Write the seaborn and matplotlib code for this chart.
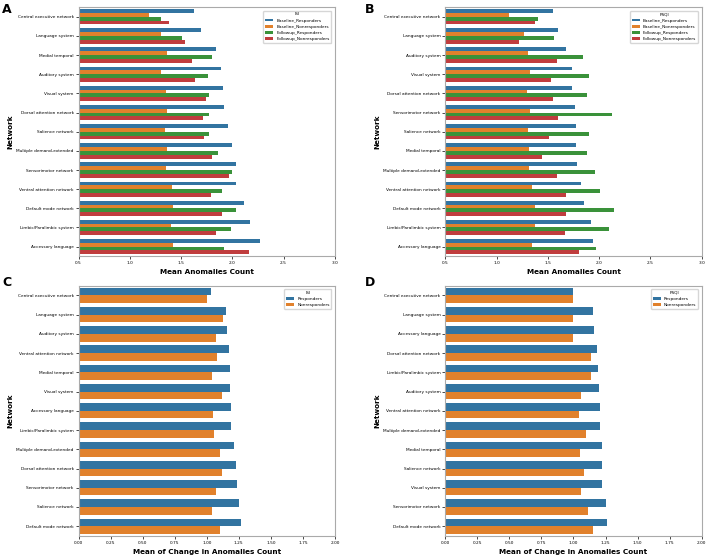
import pandas as pd
import seaborn as sns
import matplotlib.pyplot as plt

# A: ISI, mean anomalies count per network
isi_networks = ['Central executive network', 'Language system', 'Medial temporal', 'Auditory system',
                'Visual system', 'Dorsal attention network', 'Salience network', 'Multiple demand-extended',
                'Sensorimotor network', 'Ventral attention network', 'Default mode network',
                'Limbic/Paralimbic system', 'Accessory language']
isi_baseline_resp = [1.63, 1.69, 1.84, 1.89, 1.91, 1.92, 1.96, 2.00, 2.04, 2.04, 2.11, 2.17, 2.27]
isi_baseline_nonresp = [1.19, 1.30, 1.36, 1.30, 1.35, 1.36, 1.34, 1.36, 1.35, 1.41, 1.42, 1.40, 1.42]
isi_followup_resp = [1.30, 1.51, 1.80, 1.76, 1.77, 1.77, 1.77, 1.86, 2.00, 1.90, 2.04, 1.99, 1.92]
isi_followup_nonresp = [1.38, 1.54, 1.61, 1.64, 1.74, 1.71, 1.72, 1.80, 1.97, 1.79, 1.90, 1.84, 2.16]

# B: PSQI, mean anomalies count per network
psqi_networks = ['Central executive network', 'Language system', 'Auditory system', 'Visual system',
                 'Dorsal attention network', 'Sensorimotor network', 'Salience network', 'Medial temporal',
                 'Multiple demand-extended', 'Ventral attention network', 'Default mode network',
                 'Limbic/Paralimbic system', 'Accessory language']
psqi_baseline_resp = [1.55, 1.60, 1.68, 1.74, 1.74, 1.76, 1.77, 1.77, 1.78, 1.82, 1.85, 1.92, 1.94]
psqi_baseline_nonresp = [1.12, 1.27, 1.31, 1.33, 1.30, 1.33, 1.31, 1.32, 1.32, 1.35, 1.37, 1.37, 1.35]
psqi_followup_resp = [1.40, 1.56, 1.84, 1.90, 1.88, 2.13, 1.90, 1.88, 1.96, 2.01, 2.15, 2.10, 1.97]
psqi_followup_nonresp = [1.37, 1.22, 1.59, 1.53, 1.55, 1.60, 1.51, 1.44, 1.59, 1.68, 1.68, 1.67, 1.80]

# C: ISI, mean of change
isi_change_networks = ['Central executive network', 'Language system', 'Auditory system',
                       'Ventral attention network', 'Medial temporal', 'Visual system', 'Accessory language',
                       'Limbic/Paralimbic system', 'Multiple demand-extended', 'Dorsal attention network',
                       'Sensorimotor network', 'Salience network', 'Default mode network']
isi_change_resp = [1.03, 1.15, 1.16, 1.17, 1.18, 1.18, 1.19, 1.19, 1.21, 1.23, 1.24, 1.25, 1.27]
isi_change_nonresp = [1.00, 1.13, 1.07, 1.08, 1.04, 1.12, 1.05, 1.06, 1.10, 1.12, 1.07, 1.04, 1.10]

# D: PSQI, mean of change
psqi_change_networks = ['Central executive network', 'Language system', 'Accessory language',
                        'Dorsal attention network', 'Limbic/Paralimbic system', 'Auditory system',
                        'Ventral attention network', 'Multiple demand-extended', 'Medial temporal',
                        'Salience network', 'Visual system', 'Sensorimotor network', 'Default mode network']
psqi_change_resp = [1.00, 1.15, 1.16, 1.18, 1.19, 1.20, 1.21, 1.21, 1.22, 1.22, 1.22, 1.25, 1.26]
psqi_change_nonresp = [1.00, 1.00, 1.00, 1.14, 1.14, 1.06, 1.04, 1.10, 1.05, 1.08, 1.06, 1.11, 1.15]

four_groups = ['Baseline_Responders', 'Baseline_Nonresponders', 'Followup_Responders', 'Followup_Nonresponders']
two_groups = ['Responders', 'Nonresponders']


def to_long(networks, groups, series):
    rows = []
    for g, vals in zip(groups, series):
        for n, v in zip(networks, vals):
            rows.append({'Network': n, 'Group': g, 'Value': v})
    return pd.DataFrame(rows)


def draw(ax, df, order, groups, title, xlabel, xlim, xticks):
    sns.barplot(data=df, x='Value', y='Network', hue='Group', order=order, hue_order=groups,
                orient='h', errorbar=None, ax=ax)
    ax.set_xlim(xlim)
    ax.set_xticks(xticks)
    ax.set_xlabel(xlabel, fontsize=5.2, fontweight='bold', labelpad=3)
    ax.set_ylabel('Network', fontsize=5.2, fontweight='bold', labelpad=2)
    ax.tick_params(labelsize=3.1, length=2, width=0.5, pad=1.5)
    for s in ax.spines.values():
        s.set_color('#aaaaaa')
        s.set_linewidth(0.8)
    h, l = ax.get_legend_handles_labels()
    ax.legend(h, l, title=title, loc='upper right', fontsize=3.1, title_fontsize=3.1,
              handlelength=1.8, handleheight=0.6, borderaxespad=0.8, frameon=True)


fig = plt.figure(figsize=(7.08, 5.57), dpi=100)
axA = fig.add_axes([0.111, 0.540, 0.362, 0.447])
axB = fig.add_axes([0.629, 0.540, 0.362, 0.447])
axC = fig.add_axes([0.111, 0.038, 0.362, 0.449])
axD = fig.add_axes([0.629, 0.038, 0.362, 0.449])

ticks_a = [0.5, 1.0, 1.5, 2.0, 2.5, 3.0]
ticks_c = [0, 0.25, 0.5, 0.75, 1.0, 1.25, 1.5, 1.75, 2.0]

draw(axA, to_long(isi_networks, four_groups,
                  [isi_baseline_resp, isi_baseline_nonresp, isi_followup_resp, isi_followup_nonresp]),
     isi_networks, four_groups, 'ISI', 'Mean Anomalies Count', (0.5, 3.0), ticks_a)
draw(axB, to_long(psqi_networks, four_groups,
                  [psqi_baseline_resp, psqi_baseline_nonresp, psqi_followup_resp, psqi_followup_nonresp]),
     psqi_networks, four_groups, 'PSQI', 'Mean Anomalies Count', (0.5, 3.0), ticks_a)
draw(axC, to_long(isi_change_networks, two_groups, [isi_change_resp, isi_change_nonresp]),
     isi_change_networks, two_groups, 'ISI', 'Mean of Change in Anomalies Count', (0, 2.0), ticks_c)
draw(axD, to_long(psqi_change_networks, two_groups, [psqi_change_resp, psqi_change_nonresp]),
     psqi_change_networks, two_groups, 'PSQI', 'Mean of Change in Anomalies Count', (0, 2.0), ticks_c)

for letter, x, y in [('A', 0.003, 0.995), ('B', 0.516, 0.995), ('C', 0.003, 0.505), ('D', 0.516, 0.505)]:
    fig.text(x, y, letter, fontsize=9, fontweight='bold', va='top')

fig.savefig('out.png', dpi=100)
